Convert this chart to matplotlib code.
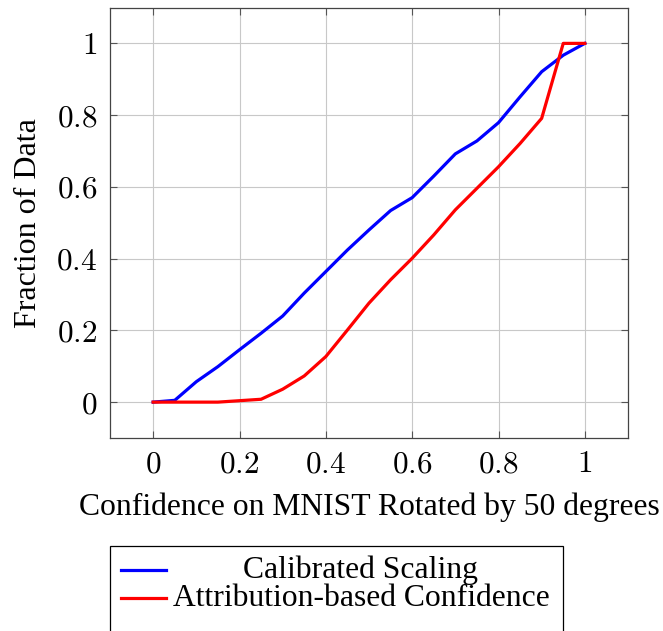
import numpy as np
import matplotlib
matplotlib.use('Agg')
import matplotlib.pyplot as plt
from matplotlib.lines import Line2D
from matplotlib.patches import Rectangle

plt.rcParams['font.family'] = ['Liberation Serif', 'DejaVu Serif']
plt.rcParams['mathtext.fontset'] = 'cm'

conf = [0.0, 0.05, 0.1, 0.15, 0.2, 0.25, 0.3, 0.35, 0.4, 0.45, 0.5,
        0.55, 0.6, 0.65, 0.7, 0.75, 0.8, 0.85, 0.9, 0.95, 1.0]
calibrated = [0.0, 0.005, 0.057, 0.099, 0.146, 0.192, 0.240, 0.304, 0.364, 0.424, 0.480,
              0.534, 0.570, 0.630, 0.692, 0.728, 0.779, 0.851, 0.921, 0.967, 1.0]
attribution = [0.0, 0.0, 0.0, 0.0, 0.004, 0.008, 0.036, 0.073, 0.127, 0.201, 0.276,
               0.341, 0.401, 0.466, 0.536, 0.596, 0.656, 0.721, 0.791, 1.0, 1.0]
labels = ['Calibrated Scaling', 'Attribution-based Confidence']
colors = ['#0000ff', '#ff0000']
ticks = [0, 0.2, 0.4, 0.6, 0.8, 1]
tick_labels = ['$0$', '$0.2$', '$0.4$', '$0.6$', '$0.8$', '$1$']

fig = plt.figure(figsize=(6.63, 6.31), dpi=100)
ax = fig.add_axes([110 / 663, 1 - 438 / 631, 518 / 663, 430.5 / 631])

ax.plot(conf, calibrated, color=colors[0], lw=2.3, zorder=3)
ax.plot(conf, attribution, color=colors[1], lw=2.3, zorder=3)

ax.set_xlim(-0.1, 1.1)
ax.set_ylim(-0.1, 1.1)
ax.set_xticks(ticks)
ax.set_xticklabels(tick_labels, fontsize=22.5)
ax.set_yticks(ticks)
ax.set_yticklabels(tick_labels, fontsize=22.5)
ax.tick_params(direction='in', length=5, width=0.8, color='#555555',
               top=True, right=True, pad=9)
ax.grid(True, color='#c8c8c8', lw=0.8)
for s in ax.spines.values():
    s.set_color('#444444')
    s.set_linewidth(0.9)

ax.set_xlabel('Confidence on MNIST Rotated by 50 degrees', fontsize=22.8, labelpad=9)
ax.set_ylabel('Fraction of Data', fontsize=23, labelpad=10)

# legend drawn as a box with centered entries
fig.patches.append(Rectangle((110 / 663, -0.02), 453 / 663, (631 - 546) / 631 + 0.02,
                             transform=fig.transFigure, fill=False,
                             edgecolor='black', lw=0.9))
for i, (lab, col) in enumerate(zip(labels, colors)):
    yy = 1 - (570 + 28 * i) / 631
    fig.lines.append(Line2D([121 / 663, 166 / 663], [yy, yy], color=col, lw=2.3,
                            transform=fig.transFigure))
    fig.text(361 / 663, yy, lab, ha='center', va='center', fontsize=22.8)

fig.savefig('out.png', dpi=100)
